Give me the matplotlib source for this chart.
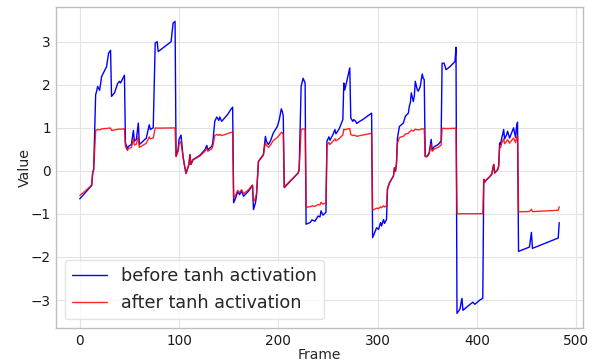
import matplotlib.pyplot as plt

# frame index of each breakpoint
frames = [0, 5, 12, 13, 14, 16, 17, 18, 20, 22, 27, 29, 31, 32, 35, 38, 40, 41, 45, 46,
          48, 49, 52, 54, 55, 57, 59, 60, 67, 70, 71, 74, 76, 78, 79, 92, 94, 96, 97, 99,
          100, 102, 104, 105, 107, 110, 111, 112, 114, 121, 126, 128, 129, 133, 134, 136, 138, 140, 141, 143,
          146, 149, 152, 154, 155, 157, 159, 161, 163, 165, 170, 174, 175, 177, 178, 180, 185, 187, 188, 190,
          192, 195, 199, 201, 203, 204, 205, 206, 220, 221, 223, 225, 227, 228, 232, 234, 237, 240, 242, 243,
          245, 248, 249, 251, 252, 255, 257, 258, 261, 263, 265, 266, 267, 269, 271, 272, 273, 275, 276, 278,
          279, 282, 285, 294, 295, 297, 299, 301, 303, 304, 306, 307, 309, 310, 312, 316, 317, 318, 319, 320,
          322, 326, 328, 331, 332, 333, 334, 336, 337, 338, 340, 341, 343, 345, 346, 347, 348, 350, 352, 354,
          355, 357, 361, 364, 365, 367, 369, 373, 378, 379, 380, 383, 385, 386, 391, 396, 398, 403, 406, 407,
          408, 410, 412, 415, 417, 418, 421, 422, 423, 424, 425, 426, 427, 428, 430, 431, 433, 435, 437, 439,
          440, 441, 442, 453, 455, 456, 482, 483]

before = [-0.65, -0.52, -0.34, -0.05, 0.03, 1.77, 1.85, 1.96, 1.87, 2.19, 2.42, 2.73, 2.80, 1.73, 1.81, 2.02, 2.08, 2.04, 2.22, 0.65,
          0.51, 0.57, 0.61, 0.94, 0.69, 0.73, 1.11, 0.61, 0.76, 1.07, 0.96, 1.00, 2.97, 3.00, 2.77, 3.00, 3.43, 3.47, 0.34, 0.49,
          0.73, 0.83, 0.34, 0.19, -0.06, 0.15, 0.38, 0.15, 0.26, 0.36, 0.49, 0.59, 0.49, 0.57, 0.65, 1.15, 1.25, 1.17, 1.25, 1.15,
          1.23, 1.31, 1.42, 1.48, -0.74, -0.63, -0.49, -0.55, -0.47, -0.59, -0.47, -0.34, -0.90, -0.74, -0.59, 0.22, 0.38, 0.80, 0.69, 0.61,
          0.69, 0.88, 1.03, 1.19, 1.44, 1.38, 1.27, -0.39, -0.05, 0.03, 1.96, 2.15, 2.04, -1.24, -1.20, -1.14, -1.17, -1.05, -1.07, -0.93,
          -1.03, -0.96, 0.69, 0.79, 0.71, 0.84, 0.96, 0.86, 0.96, 1.07, 1.19, 2.04, 1.88, 2.08, 2.27, 2.39, 1.23, 1.15, 1.19, 1.15,
          1.10, 1.15, 1.19, 1.34, -1.55, -1.44, -1.32, -1.36, -1.20, -1.28, -1.13, -1.22, -1.13, -0.43, -0.28, -0.12, 0.07, -0.01, 0.15, 0.76,
          1.03, 1.11, 1.27, 1.34, 1.50, 1.58, 1.81, 1.61, 1.73, 2.08, 1.88, 1.85, 1.96, 2.25, 2.15, 2.12, 0.34, 0.34, 0.42, 0.73,
          0.49, 0.56, 0.61, 0.69, 2.50, 2.50, 2.35, 2.42, 2.54, 2.87, -3.31, -3.21, -2.96, -3.24, -3.14, -3.05, -3.10, -3.00, -2.96, -0.20,
          -0.26, -0.20, -0.16, -0.08, 0.15, -0.05, 0.03, 0.11, 0.65, 0.61, 0.76, 0.84, 0.96, 0.74, 0.84, 0.92, 0.76, 0.88, 1.00, 0.78,
          1.03, 1.13, -1.87, -1.77, -1.43, -1.80, -1.56, -1.20]

after = [-0.57, -0.48, -0.33, -0.05, 0.03, 0.94, 0.95, 0.96, 0.95, 0.975, 0.984, 0.992, 0.993, 0.94, 0.948, 0.965, 0.969, 0.967, 0.977, 0.57,
         0.47, 0.515, 0.544, 0.735, 0.598, 0.623, 0.804, 0.544, 0.641, 0.79, 0.744, 0.762, 0.995, 0.995, 0.992, 0.995, 0.998, 0.998, 0.327, 0.454,
         0.623, 0.681, 0.327, 0.188, -0.06, 0.149, 0.363, 0.149, 0.254, 0.345, 0.454, 0.53, 0.454, 0.515, 0.572, 0.818, 0.848, 0.824, 0.848, 0.818,
         0.843, 0.864, 0.89, 0.902, -0.629, -0.558, -0.454, -0.501, -0.438, -0.53, -0.438, -0.327, -0.716, -0.629, -0.53, 0.216, 0.363, 0.664, 0.598, 0.544,
         0.598, 0.706, 0.774, 0.831, 0.894, 0.881, 0.854, -0.371, -0.05, 0.03, 0.961, 0.973, 0.967, -0.845, -0.834, -0.814, -0.824, -0.782, -0.79, -0.731,
         -0.774, -0.744, 0.598, 0.658, 0.611, 0.686, 0.744, 0.696, 0.744, 0.79, 0.831, 0.967, 0.954, 0.969, 0.979, 0.983, 0.843, 0.818, 0.831, 0.818,
         0.80, 0.818, 0.831, 0.872, -0.914, -0.894, -0.867, -0.876, -0.834, -0.856, -0.811, -0.84, -0.811, -0.405, -0.273, -0.119, 0.07, -0.01, 0.149, 0.641,
         0.774, 0.804, 0.854, 0.872, 0.905, 0.919, 0.948, 0.923, 0.939, 0.969, 0.954, 0.952, 0.961, 0.978, 0.973, 0.971, 0.327, 0.327, 0.397, 0.623,
         0.454, 0.508, 0.544, 0.598, 0.987, 0.987, 0.982, 0.984, 0.988, 0.994, -0.997, -0.997, -0.995, -0.997, -0.996, -0.996, -0.996, -0.995, -0.995, -0.197,
         -0.254, -0.197, -0.159, -0.08, 0.149, -0.05, 0.03, 0.11, 0.572, 0.544, 0.641, 0.686, 0.744, 0.629, 0.686, 0.726, 0.641, 0.706, 0.762, 0.653,
         0.774, 0.811, -0.953, -0.944, -0.892, -0.947, -0.915, -0.834]

plt.style.use("seaborn-v0_8-whitegrid")
plt.rcParams["font.family"] = "DejaVu Sans"

fig = plt.figure(figsize=(6, 3.6), dpi=100)
ax = fig.add_axes([0.093, 0.089, 0.879, 0.892])

ax.plot(frames, before, color="blue", linewidth=1.0, label="before tanh activation")
ax.plot(frames, after, color="red", linewidth=1.0, alpha=0.85, label="after tanh activation")

ax.set_xticks([0, 100, 200, 300, 400, 500])
ax.set_yticks([-3, -2, -1, 0, 1, 2, 3])
ax.tick_params(labelsize=9.8, labelcolor="#1a1a1a")
ax.tick_params(axis="x", pad=4)
ax.set_xlabel("Frame", fontsize=10, labelpad=0, color="#262626")
ax.set_ylabel("Value", fontsize=10.2, labelpad=-1, color="#262626")
for s in ax.spines.values():
    s.set_color("#bfbfbf")
ax.grid(color="#e3e3e3", linewidth=0.8)

ax.legend(loc="lower left", fontsize=12.7, frameon=True, framealpha=0.8, edgecolor="#dddddd")

fig.savefig("out.png", dpi=100)
